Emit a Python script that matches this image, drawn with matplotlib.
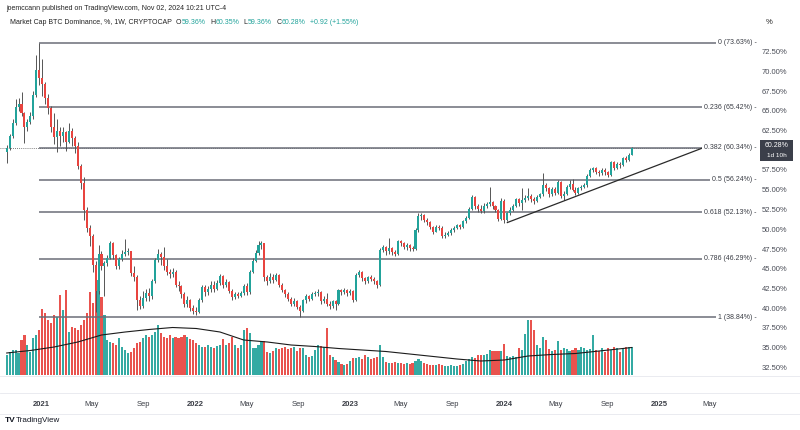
import matplotlib
matplotlib.use("Agg")
import matplotlib.pyplot as plt
import matplotlib.dates as mdates
from matplotlib.patches import Rectangle
import numpy as np
import pandas as pd

plt.rcParams['font.family'] = ['Liberation Sans', 'DejaVu Sans']

# ---------------- data ----------------
start_week = "2020-10-12"
first_open = 59.8
closes = [60.3, 61.8, 63.4, 65.5, 65.9, 64.7, 62.9, 63.6, 64.3, 67.0,
          70.2, 69.2, 68.4, 66.6, 65.4, 63.0, 61.7, 62.4, 61.8, 62.3,
          61.0, 62.5, 61.6, 60.6, 58.0, 55.8, 52.4, 50.2, 49.1, 45.5,
          42.2, 46.9, 45.3, 45.7, 46.4, 48.2, 46.7, 45.4, 46.2, 46.9,
          47.1, 47.2, 44.5, 44.0, 41.1, 40.3, 41.3, 41.9, 41.5, 43.4,
          46.1, 46.9, 46.5, 45.4, 44.6, 44.3, 44.6, 43.0, 42.8, 41.8,
          40.6, 41.0, 40.0, 39.6, 39.5, 41.0, 42.7, 42.0, 42.4, 43.0,
          42.5, 43.2, 44.1, 42.9, 43.3, 42.2, 41.4, 41.8, 41.6, 41.9,
          42.8, 42.0, 44.6, 46.0, 47.0, 48.0, 48.2, 43.9, 43.4, 44.0,
          43.6, 44.2, 43.0, 42.3, 41.8, 41.2, 40.6, 40.9, 40.2, 39.6,
          41.0, 41.5, 41.2, 41.8, 41.9, 42.1, 40.9, 41.2, 40.6, 40.3,
          40.9, 40.5, 42.3, 42.0, 42.3, 41.9, 42.2, 41.0, 44.2, 44.6,
          43.8, 43.4, 43.9, 43.7, 43.4, 42.9, 47.4, 47.7, 47.2, 47.6,
          47.1, 46.9, 48.5, 48.3, 47.8, 48.0, 47.6, 47.5, 49.9, 51.7,
          51.8, 51.2, 50.9, 50.3, 49.7, 50.3, 50.2, 49.1, 49.3, 49.5,
          49.9, 50.2, 50.5, 50.3, 51.0, 51.4, 52.6, 54.1, 52.9, 52.6,
          52.3, 53.0, 53.2, 53.4, 52.9, 52.5, 51.3, 53.6, 51.2, 52.0,
          52.5, 53.0, 53.8, 53.3, 53.7, 54.0, 54.2, 53.8, 53.6, 54.1,
          54.4, 55.65, 55.2, 54.4, 55.1, 54.6, 56.0, 54.2, 54.5, 55.4,
          55.7, 55.0, 54.6, 55.2, 55.4, 55.6, 56.8, 57.5, 57.7, 57.3,
          57.1, 57.5, 57.2, 56.9, 58.5, 57.8, 58.3, 58.1, 59.0, 58.8,
          59.36, 60.28]
highs = [60.7, 62.1, 64.0, 66.5, 66.6, 67.4, 64.9, 64.0, 64.8, 67.5,
         72.1, 73.63, 71.5, 68.6, 67.1, 65.6, 64.7, 63.9, 63.0, 62.9,
         62.5, 63.5, 62.8, 61.8, 61.1, 58.2, 56.6, 52.8, 50.5, 49.4,
         46.0, 48.0, 47.3, 46.0, 46.7, 48.5, 48.4, 46.9, 46.5, 47.4,
         48.8, 47.6, 47.3, 45.3, 44.2, 41.6, 42.2, 42.4, 42.6, 43.7,
         46.4, 47.5, 47.1, 47.8, 46.2, 45.0, 45.1, 44.8, 43.4, 43.0,
         42.0, 41.5, 41.2, 40.4, 40.1, 41.3, 43.0, 42.9, 42.8, 43.5,
         43.4, 43.6, 44.3, 44.2, 43.7, 43.4, 42.4, 42.1, 42.0, 42.2,
         43.1, 43.2, 44.9, 46.3, 47.4, 48.5, 48.5, 48.3, 44.2, 44.4,
         44.3, 44.5, 44.3, 43.2, 42.5, 42.0, 41.4, 41.3, 41.0, 40.4,
         41.2, 41.8, 41.7, 42.0, 42.2, 42.4, 42.2, 41.6, 41.9, 40.9,
         41.1, 41.0, 42.5, 42.5, 42.6, 42.4, 42.4, 42.3, 44.4, 44.85,
         44.7, 44.0, 44.1, 44.2, 43.9, 43.6, 47.6, 48.0, 47.9, 48.85,
         47.8, 47.4, 48.7, 48.7, 48.4, 48.2, 48.1, 47.9, 50.1, 52.1,
         52.0, 51.9, 51.4, 51.0, 50.4, 50.5, 50.6, 50.4, 49.6, 49.8,
         50.1, 50.4, 50.7, 50.7, 51.2, 51.7, 52.8, 54.3, 54.2, 53.2,
         53.1, 53.3, 53.5, 55.3, 53.6, 53.1, 52.6, 54.0, 53.8, 52.2,
         52.8, 53.2, 54.0, 54.0, 55.2, 54.3, 55.2, 54.4, 54.1, 54.3,
         54.6, 57.1, 55.9, 55.4, 55.3, 55.3, 56.2, 56.1, 54.8, 55.6,
         56.2, 56.3, 55.3, 55.4, 55.6, 55.9, 57.0, 57.7, 57.9, 57.9,
         57.5, 57.7, 57.7, 57.4, 58.7, 58.6, 58.5, 58.5, 59.2, 59.3,
         59.6, 60.35]
lows = [58.4, 60.0, 61.6, 63.2, 65.0, 64.3, 60.9, 62.4, 63.3, 64.0,
        66.8, 68.2, 66.9, 65.8, 64.6, 62.3, 60.8, 59.8, 60.5, 61.0,
        59.9, 60.9, 60.5, 59.6, 57.6, 55.1, 51.2, 49.6, 47.9, 44.6,
        39.5, 41.8, 44.8, 41.6, 45.3, 46.2, 46.2, 45.0, 45.0, 46.0,
        46.6, 46.7, 44.1, 43.5, 39.8, 39.9, 40.0, 40.9, 40.9, 41.2,
        43.2, 45.8, 45.5, 44.9, 44.2, 43.8, 43.9, 42.7, 42.2, 41.3,
        40.2, 40.1, 39.7, 39.3, 39.2, 39.4, 40.8, 41.6, 41.7, 42.1,
        42.1, 42.3, 43.0, 42.6, 42.7, 41.9, 41.1, 41.2, 41.3, 41.4,
        41.7, 41.7, 41.8, 44.4, 45.8, 46.8, 47.5, 43.5, 43.0, 43.2,
        43.2, 43.4, 42.7, 42.0, 41.4, 40.9, 40.3, 40.3, 39.9, 38.84,
        39.5, 40.7, 40.9, 41.0, 41.5, 41.6, 40.6, 40.7, 40.3, 39.9,
        40.0, 39.8, 40.4, 41.7, 41.8, 41.6, 41.7, 40.8, 40.9, 43.9,
        43.5, 43.1, 43.2, 43.4, 43.1, 42.6, 42.8, 47.1, 46.8, 46.9,
        46.8, 46.6, 46.8, 47.9, 47.5, 47.4, 47.3, 47.2, 47.4, 49.7,
        51.2, 50.9, 50.6, 50.0, 49.4, 49.6, 49.9, 48.9, 48.9, 49.1,
        49.3, 49.7, 50.0, 50.0, 50.2, 50.8, 51.3, 52.4, 52.6, 52.2,
        52.0, 52.1, 52.7, 52.9, 52.6, 52.2, 51.0, 51.2, 50.8, 51.0,
        51.8, 52.3, 52.8, 53.0, 52.4, 53.4, 53.7, 53.5, 53.2, 53.4,
        53.9, 54.2, 54.9, 54.1, 54.2, 54.3, 54.4, 53.9, 53.7, 54.3,
        55.1, 54.8, 54.3, 54.4, 55.0, 55.2, 55.4, 56.6, 57.2, 57.0,
        56.8, 56.9, 56.9, 56.6, 56.8, 57.5, 57.6, 57.8, 58.0, 58.5,
        58.7, 59.36]
volumes = [20, 23, 25, 25, 22, 35, 40, 30, 23, 37, 40, 45,
           66, 62, 55, 52, 60, 58, 80, 65, 85,
           43, 48, 47, 45, 50, 55, 62,
           83, 72, 92, 95, 78, 60,
           35, 33, 32, 30, 37, 28, 25, 22,
           23, 27, 32, 33, 37, 40, 38, 40, 43, 50, 42, 38,
           37, 40, 37, 38, 37, 38, 40, 38, 36,
           35, 32, 30, 28, 28, 30, 28, 27, 29, 30,
           36, 30, 32, 38, 30, 27, 30,
           45, 47, 42,
           27, 27, 30, 34,
           34, 23, 22, 24,
           27, 26, 27, 28, 26, 27, 28, 24, 27, 27,
           20, 18, 19, 25, 30, 29, 28,
           47,
           20, 18, 15, 13, 11, 10, 11, 14,
           17, 17, 18, 16, 20, 18, 16, 17, 18,
           30,
           18, 13, 12, 12, 13, 12, 12, 11, 12, 11, 12,
           14, 16, 14, 12, 11, 10, 10, 10, 11, 10,
           9, 9, 10, 9, 9, 10, 11, 14, 16,
           18, 17, 20, 20,
           20, 21, 25, 24, 24, 24, 24, 31,
           19, 18, 19, 18, 27, 25,
           41, 55, 55, 45,
           30, 27, 38, 35, 26, 24, 25, 34, 25, 27, 26, 24,
           25, 27, 25, 28, 27, 25, 26, 40, 25,
           24, 27, 23, 27, 25, 28, 27, 23, 27, 28, 28, 28]
# volume moving average, sampled every 8 weeks plus the last week
volume_ma = [22, 24.5, 28, 33, 40, 43, 45.5, 47.5, 46.5, 43, 35, 33, 30, 28.5,
             26.5, 25, 23.5, 21, 18.5, 16, 14, 15, 19, 20.5, 21.5, 24, 26.5, 27.5]

fib_ratios = ["0", "0.236", "0.382", "0.5", "0.618", "0.786", "1"]
fib_levels = [73.63, 65.42, 60.34, 56.24, 52.13, 46.29, 38.84]
fib_anchor_date = "2020-12-28"
trend_dates = ["2024-01-08", "2025-04-19"]
trend_values = [50.85, 60.4]
last_price = 60.28
countdown = "1d 10h"
header_line1 = "joemccann published on TradingView.com, Nov 02, 2024 10:21 UTC-4"
symbol_title = "Market Cap BTC Dominance, %, 1W, CRYPTOCAP"
ohlc_labels = ["O", "H", "L", "C"]
ohlc_values = [59.36, 60.35, 59.36, 60.28]
change_text = "+0.92 (+1.55%)"
price_ticks = [32.5, 35.0, 37.5, 40.0, 42.5, 45.0, 47.5, 50.0, 52.5, 55.0,
               57.5, 60.0, 62.5, 65.0, 67.5, 70.0, 72.5]
time_ticks = ["2021-01-01", "2021-05-01", "2021-09-01", "2022-01-01", "2022-05-01",
              "2022-09-01", "2023-01-01", "2023-05-01", "2023-09-01", "2024-01-01",
              "2024-05-01", "2024-09-01", "2025-01-01", "2025-05-01"]
time_labels = ["2021", "May", "Sep", "2022", "May", "Sep", "2023", "May", "Sep",
               "2024", "May", "Sep", "2025", "May"]

# ---------------- figure ----------------
W, H = 800, 430
fig = plt.figure(figsize=(W / 100, H / 100), dpi=100)
fig.patch.set_facecolor('white')


def fx(px):
    return px / W


def fy(py):
    return 1 - py / H


pane_top, pane_bot, pane_right = 30, 375, 757
pos = [0, fy(pane_bot), fx(pane_right), (pane_bot - pane_top) / H]
axv = fig.add_axes(pos)
ax = fig.add_axes(pos, sharex=axv)
ax.patch.set_alpha(0)

UP = '#22a39b'
DN = '#e8443f'

dates = pd.date_range(start_week, periods=len(closes), freq="7D")
x = mdates.date2num(dates)
opens = [first_open] + closes[:-1]
o = np.array(opens)
c = np.array(closes)
up = c >= o
cols = [UP if u else DN for u in up]

# x scale: px per day
ppd = 0.4232
x0 = x[0]
ax.set_xlim(x0 - 6.7 / ppd, x0 + (pane_right - 6.7) / ppd)
# y scale
ax.set_ylim(72.5 - (pane_bot - 51.5) / 7.9, 72.5 + (51.5 - pane_top) / 7.9)
axv.set_ylim(0, pane_bot - pane_top)

# volume
axv.bar(x, volumes, width=5.0, color=cols, alpha=0.92, linewidth=0)
ma_x = np.r_[x[::8], x[-1]]
axv.plot(ma_x, volume_ma, color='#1c1c1c', lw=0.8)

# candles
ax.vlines(x, lows, highs, color='#555555', lw=0.7, zorder=3)
body_h = np.maximum(np.abs(c - o), 0.08)
ax.bar(x, body_h, bottom=np.minimum(o, c), width=4.8, color=cols, linewidth=0, zorder=4)

# current price dotted line
ax.axhline(last_price, color='#555555', lw=0.6, ls=(0, (1, 1.5)), zorder=2)

# fib lines
xa = mdates.date2num(pd.Timestamp(fib_anchor_date))
xr = ax.get_xlim()[1]
for r, lv in zip(fib_ratios, fib_levels):
    ax.hlines(lv, xa, xr, color='#6b6e78', lw=1.1, zorder=2)
    ax.text(xr - 0.5 / ppd, lv, f"{r} ({lv:.2f}%) -", ha='right', va='center',
            fontsize=5, color='#3a3d45', zorder=6,
            bbox=dict(facecolor='white', edgecolor='none', pad=1.2))

# trend line
tx = mdates.date2num(pd.to_datetime(trend_dates))
ax.plot(tx, trend_values, color='#2a2a2a', lw=0.9, zorder=5)

# axes styling
for a in (ax, axv):
    for s in a.spines.values():
        s.set_visible(False)
axv.set_yticks([])
axv.tick_params(axis='x', length=0, labelbottom=False)
ax.yaxis.tick_right()
ax.set_yticks(price_ticks)
# the tick label nearest the last price is hidden under the price box
ax.set_yticklabels(["" if abs(v - last_price) < 1.2 else f"{v:.2f}%" for v in price_ticks])
ax.tick_params(axis='y', length=0, pad=3.6, labelsize=5.5, labelcolor='#4a4d57')
ax.set_xticks(mdates.date2num(pd.to_datetime(time_ticks)))
ax.set_xticklabels(time_labels)
ax.tick_params(axis='x', length=0, pad=18.5, labelsize=5.5, labelcolor='#3a3d45')
for lab in ax.get_xticklabels():
    if lab.get_text().isdigit():
        lab.set_fontweight('bold')

# separators
for yy in (375.5, 393, 414):
    fig.add_artist(plt.Line2D([0, 1], [fy(yy), fy(yy)], color='#e6e8ee', lw=0.6,
                              transform=fig.transFigure))

# current price box
fig.add_artist(Rectangle((fx(760), fy(161)), fx(33), 21 / H, transform=fig.transFigure,
                         facecolor='#3b3f4a', edgecolor='none'))
fig.text(fx(776.5), fy(145.5), f"{last_price:.2f}%", ha='center', va='center',
         fontsize=5.0, color='white')
fig.text(fx(776.5), fy(155.5), countdown, ha='center', va='center', fontsize=4.6,
         color='white')

# header
DARK = '#222222'
TEAL = '#22a39b'
fig.text(fx(6), fy(9), header_line1, ha='left', va='center', fontsize=5.0, color=DARK)

renderer = fig.canvas.get_renderer()


def put(px, text, color, gap):
    t = fig.text(fx(px), fy(23), text, ha='left', va='center', fontsize=5.0, color=color)
    bb = t.get_window_extent(renderer=renderer)
    return bb.x1 + gap


nx = put(10, symbol_title, DARK, 4)
for lab, val in zip(ohlc_labels, ohlc_values):
    nx = put(nx, lab, DARK, 0.6)
    nx = put(nx, f"{val:.2f}%", TEAL, 4)
put(nx, change_text, TEAL, 0)
fig.text(fx(766), fy(23), "%", ha='left', va='center', fontsize=5.5, color=DARK)

# footer logo
fig.text(fx(5), fy(420), "TV", ha='left', va='center', fontsize=6, fontweight='bold',
         color='#131722')
fig.text(fx(16), fy(420), "TradingView", ha='left', va='center', fontsize=5.8,
         color='#131722')

fig.savefig("out.png", dpi=100, facecolor='white')
